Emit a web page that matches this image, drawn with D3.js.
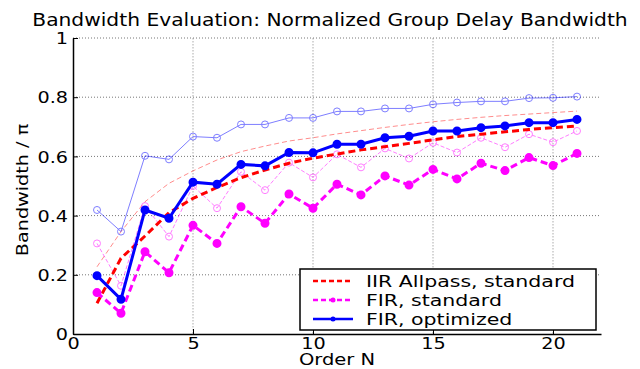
<!DOCTYPE html>
<html>
<head>
<meta charset="utf-8">
<script src="https://cdn.jsdelivr.net/npm/d3@7"></script>
<style>
  html, body { margin: 0; padding: 0; background: #fff; }
  svg { display: block; font-family: "DejaVu Sans", sans-serif; }
</style>
</head>
<body>
<svg id="chart" width="640" height="369"></svg>
<script>
// order N
const orders = [1, 2, 3, 4, 5, 6, 7, 8, 9, 10, 11, 12, 13, 14, 15, 16, 17, 18, 19, 20, 21];

// thick series (legend entries)
const iirStandard = [0.104, 0.256, 0.331, 0.410, 0.458, 0.495, 0.528, 0.554, 0.577, 0.594, 0.608,
  0.622, 0.633, 0.644, 0.656, 0.667, 0.675, 0.683, 0.691, 0.697, 0.703];
const firStandard = [0.140, 0.070, 0.278, 0.207, 0.367, 0.306, 0.430, 0.374, 0.473, 0.425, 0.506,
  0.470, 0.534, 0.503, 0.556, 0.524, 0.577, 0.552, 0.596, 0.569, 0.610];
const firOptimized = [0.197, 0.117, 0.419, 0.391, 0.513, 0.506, 0.573, 0.568, 0.613, 0.612, 0.641,
  0.641, 0.663, 0.668, 0.686, 0.686, 0.697, 0.703, 0.714, 0.714, 0.725];

// thin (light) companion series
const iirThin = [0.227, 0.346, 0.447, 0.509, 0.551, 0.588, 0.616, 0.635, 0.652, 0.663, 0.676,
  0.687, 0.698, 0.708, 0.717, 0.725, 0.732, 0.738, 0.743, 0.748, 0.753];
const firStandardThin = [0.306, 0.163, 0.432, 0.329, 0.500, 0.425, 0.548, 0.486, 0.579, 0.529, 0.607,
  0.563, 0.627, 0.593, 0.646, 0.613, 0.663, 0.631, 0.675, 0.648, 0.686];
const firOptimizedThin = [0.419, 0.346, 0.602, 0.590, 0.667, 0.663, 0.708, 0.708, 0.730, 0.730, 0.752,
  0.752, 0.762, 0.762, 0.776, 0.782, 0.786, 0.786, 0.797, 0.798, 0.802];

const xTicks = [0, 5, 10, 15, 20];
const yTicks = [0, 0.2, 0.4, 0.6, 0.8, 1];
const legendLabels = ['IIR Allpass, standard', 'FIR, standard', 'FIR, optimized'];

const svg = d3.select('#chart');
const margin = { top: 38, right: 39, bottom: 35, left: 73 };
const width = +svg.attr('width') - margin.left - margin.right;
const height = +svg.attr('height') - margin.top - margin.bottom;
const g = svg.append('g').attr('transform', 'translate(' + margin.left + ',' + margin.top + ')');

const x = d3.scaleLinear().domain([0, 22]).range([0, width]);
const y = d3.scaleLinear().domain([0, 1]).range([height, 0]);

// the original's Helvetica renders wide, so widen the glyphs a bit
function stretch(sel, k) {
  sel.each(function() {
    const len = this.getComputedTextLength();
    d3.select(this).attr('textLength', len * k).attr('lengthAdjust', 'spacingAndGlyphs');
  });
}

// grid
g.append('g')
  .selectAll('line')
  .data(xTicks.slice(1))
  .enter().append('line')
  .attr('x1', d => x(d)).attr('x2', d => x(d))
  .attr('y1', 0).attr('y2', height)
  .attr('stroke', '#c8c8c8').attr('stroke-width', 1.5).attr('stroke-dasharray', '1.5,1.5');

g.append('g')
  .selectAll('line')
  .data(yTicks.slice(1))
  .enter().append('line')
  .attr('x1', 0).attr('x2', width)
  .attr('y1', d => y(d)).attr('y2', d => y(d))
  .attr('stroke', '#777').attr('stroke-width', 1).attr('stroke-dasharray', '1,2');

// axes
const fmt = d => d3.format('~g')(d);
const xAxis = g.append('g')
  .attr('transform', 'translate(0,' + height + ')')
  .call(d3.axisBottom(x).tickValues(xTicks).tickFormat(fmt).tickSizeInner(-5).tickSizeOuter(0).tickPadding(4));
const yAxis = g.append('g')
  .call(d3.axisLeft(y).tickValues(yTicks).tickFormat(fmt).tickSizeInner(-5).tickSizeOuter(0).tickPadding(5));

[xAxis, yAxis].forEach(a => {
  a.select('.domain').attr('stroke', '#000').attr('stroke-width', 1.5);
  a.selectAll('.tick line').attr('stroke', '#000');
  a.selectAll('.tick text').attr('fill', '#000').style('font-size', '16px')
    .style('font-family', '"DejaVu Sans", sans-serif');
  stretch(a.selectAll('.tick text'), 1.2);
});
yAxis.selectAll('.tick text').attr('dy', '0.36em');

// lines
const line = d3.line()
  .x((d, i) => x(orders[i]))
  .y(d => y(d));

const series = [
  { data: iirThin, color: '#ff0000', w: 1, dash: '5,3', opacity: 0.45, marker: null },
  { data: firStandardThin, color: '#ff00ff', w: 1, dash: '4,2', opacity: 0.5, marker: 'open' },
  { data: firOptimizedThin, color: '#0000ff', w: 1, dash: null, opacity: 0.5, marker: 'open' },
  { data: iirStandard, color: '#ff0000', w: 3, dash: '7,4', opacity: 1, marker: null },
  { data: firStandard, color: '#ff00ff', w: 3, dash: '7,4', opacity: 1, marker: 'filled' },
  { data: firOptimized, color: '#0000ff', w: 3, dash: null, opacity: 1, marker: 'filled' }
];

series.forEach(s => {
  const sg = g.append('g').attr('opacity', s.opacity);
  sg.append('path')
    .datum(s.data)
    .attr('d', line)
    .attr('fill', 'none')
    .attr('stroke', s.color)
    .attr('stroke-width', s.w)
    .attr('stroke-dasharray', s.dash);
  if (s.marker) {
    sg.selectAll('circle')
      .data(s.data)
      .enter().append('circle')
      .attr('cx', (d, i) => x(orders[i]))
      .attr('cy', d => y(d))
      .attr('r', 3.5)
      .attr('fill', s.marker === 'filled' ? s.color : 'none')
      .attr('stroke', s.color)
      .attr('stroke-width', s.marker === 'filled' ? 2 : 1);
  }
});

// legend
const legend = svg.append('g').attr('transform', 'translate(300,269)');
legend.append('rect')
  .attr('width', 296).attr('height', 61)
  .attr('fill', '#fff').attr('stroke', '#000').attr('stroke-width', 1.5);

const legendItems = series.slice(3);
legendItems.forEach((s, i) => {
  const row = legend.append('g').attr('transform', 'translate(0,' + (12 + i * 19) + ')');
  row.append('line')
    .attr('x1', 13).attr('x2', 53)
    .attr('stroke', s.color).attr('stroke-width', 2.5)
    .attr('stroke-dasharray', s.dash ? '5,3' : null);
  if (s.marker) {
    row.append('circle').attr('cx', 33).attr('r', 2.5).attr('fill', s.color);
  }
  const t = row.append('text')
    .attr('x', 66).attr('dy', '0.36em')
    .style('font-size', '16px')
    .text(legendLabels[i]);
  stretch(t, 1.28);
});

// title and labels
const title = svg.append('text')
  .attr('x', 330).attr('y', 26)
  .attr('text-anchor', 'middle')
  .style('font-size', '17px')
  .text('Bandwidth Evaluation: Normalized Group Delay Bandwidth');
stretch(title, 1.19);

const xLabel = svg.append('text')
  .attr('x', margin.left + width / 2).attr('y', 365)
  .attr('text-anchor', 'middle')
  .style('font-size', '15px')
  .text('Order N');
stretch(xLabel, 1.3);

const yLabel = svg.append('text')
  .attr('transform', 'translate(28,' + 190 + ') rotate(-90)')
  .attr('text-anchor', 'middle')
  .style('font-size', '16px')
  .text('Bandwidth / π');
stretch(yLabel, 1.2);
</script>
</body>
</html>
